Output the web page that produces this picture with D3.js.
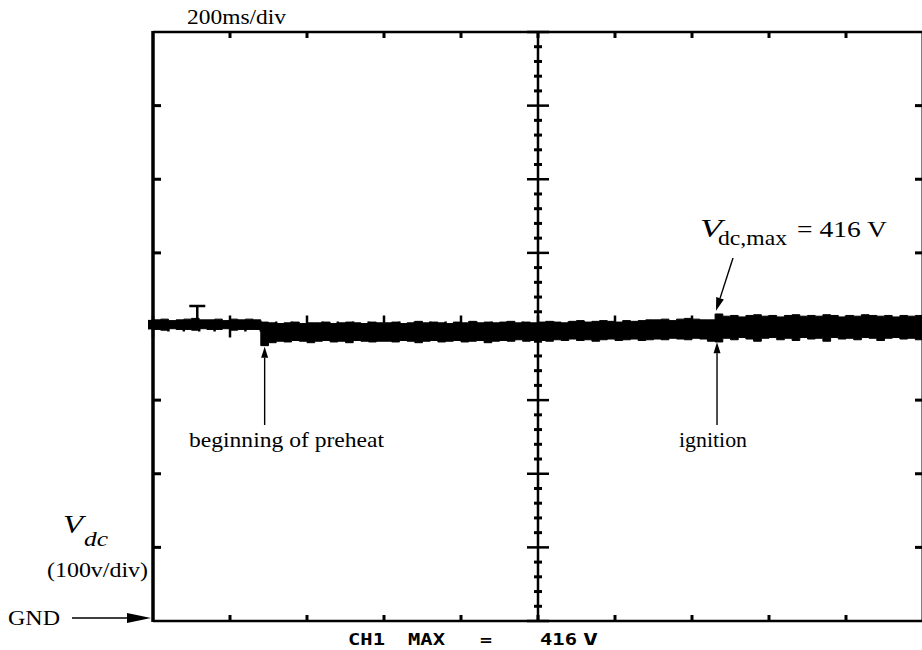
<!DOCTYPE html>
<html>
<head>
<meta charset="utf-8">
<script src="https://cdn.jsdelivr.net/npm/d3@7"></script>
<style>
  html, body { margin: 0; padding: 0; background: #fff; }
  svg { display: block; }
</style>
</head>
<body>
<svg id="scope" width="922" height="650"></svg>
<script>
// DC-bus voltage captured on a scope: 200 ms/div, 100 V/div, 10 x 8 divisions
const sampleStepMs = 20;

// Envelope of the noisy trace (volts), one pair per 20 ms sample, 0 ... 2000 ms
const upperV = [
  409, 410, 408, 409, 410, 411, 409, 409, 410, 408, 410, 409, 410, 409,
  406,
  405, 404, 405, 406, 404, 405, 405, 406, 404, 405, 406, 405, 404, 406, 405,
  405, 406, 404, 405, 407, 405, 406, 405, 404, 406, 405, 407, 405, 406, 405, 406, 407, 405, 406, 405,
  406, 407, 406, 405, 407, 408, 406, 407, 408, 407, 406, 408, 407, 408, 409,
  409, 410, 408, 410, 411, 410, 409, 409,
  417,
  414, 415, 413, 415, 416, 414, 415, 413, 415, 416, 414, 415, 414, 416, 415, 413, 415, 414, 416, 415,
  414, 415, 413, 415, 414, 415, 414
];
const lowerV = [
  396, 395, 397, 396, 396, 395, 397, 396, 396, 397, 395, 396, 396, 396,
  374,
  378, 380, 379, 381, 380, 378, 380, 381, 379, 380, 378, 381, 380, 379, 380,
  380, 379, 381, 380, 378, 380, 381, 379, 380, 381, 379, 380, 381, 378, 380, 381, 380, 382, 380, 381,
  381, 380, 382, 381, 383, 381, 382, 380, 382, 383, 381, 382, 383, 381, 382,
  383, 382, 384, 383, 382, 384, 383, 380,
  379,
  384, 382, 385, 383, 380, 384, 385, 382, 384, 381, 385, 383, 384, 380, 385, 383, 384, 382, 385, 384,
  381, 384, 385, 383, 384, 382, 384
];

// Events marked on the record
const preheatMs = 290;
const ignitionMs = 1465;
const maxVolts = 416;
const triggerMark = { ms: 115, volts: 428 };

// Graticule
const timeDivs = [0, 200, 400, 600, 800, 1000, 1200, 1400, 1600, 1800, 2000];
const voltDivs = [0, 100, 200, 300, 400, 500, 600, 700, 800];

// Labels
const sweepLabel = "200ms/div";
const voltLabel = "(100v/div)";
const gndLabel = "GND";
const preheatLabel = "beginning of preheat";
const ignitionLabel = "ignition";
const readout = ["CH1", "MAX", "=", "416", "V"];

const svg = d3.select("#scope");
const x = d3.scaleLinear().domain([0, 2000]).range([153, 923]);
const y = d3.scaleLinear().domain([0, 800]).range([621, 32]);

const serif = "'Liberation Serif', 'Times New Roman', serif";
const ink = "#000";

const trace = upperV.map((u, i) => ({ t: i * sampleStepMs, hi: u, lo: lowerV[i] }));

// --- graticule: centre cross with fine ticks
const gTicks = svg.append("g").attr("stroke", ink);
const xc = x(1000), yc = y(400);
gTicks.append("line").attr("x1", xc).attr("x2", xc).attr("y1", y(800)).attr("y2", y(0)).attr("stroke-width", 2.5);
gTicks.append("line").attr("x1", x(0)).attr("x2", x(2000)).attr("y1", yc).attr("y2", yc).attr("stroke-width", 2);
d3.range(0, 801, 20).forEach(v => {
  const major = v % 100 === 0;
  gTicks.append("line").attr("x1", xc - (major ? 11 : 4)).attr("x2", xc + (major ? 11 : 4))
    .attr("y1", y(v)).attr("y2", y(v)).attr("stroke-width", major ? 2.5 : 3);
});
d3.range(0, 2001, 40).forEach(t => {
  const major = t % 200 === 0;
  gTicks.append("line").attr("y1", yc - (major ? 11 : 5)).attr("y2", yc + (major ? 11 : 5))
    .attr("x1", x(t)).attr("x2", x(t)).attr("stroke-width", 2.5);
});

// --- frame and edge ticks
const frame = svg.append("g").attr("stroke", ink).attr("fill", "none");
frame.append("line").attr("x1", x(0)).attr("x2", x(0)).attr("y1", y(800) - 1).attr("y2", y(0) + 1).attr("stroke-width", 3.5);
frame.append("line").attr("x1", x(0)).attr("x2", x(2000)).attr("y1", y(800)).attr("y2", y(800)).attr("stroke-width", 2.5);
frame.append("line").attr("x1", x(0)).attr("x2", x(2000)).attr("y1", y(0)).attr("y2", y(0)).attr("stroke-width", 2.5);
frame.append("line").attr("x1", x(2000)).attr("x2", x(2000)).attr("y1", y(800)).attr("y2", y(0)).attr("stroke-width", 3);
voltDivs.slice(1, -1).forEach(v => {
  frame.append("line").attr("x1", x(0)).attr("x2", x(0) + 8).attr("y1", y(v)).attr("y2", y(v)).attr("stroke-width", 3);
  frame.append("line").attr("x1", x(2000) - 8).attr("x2", x(2000)).attr("y1", y(v)).attr("y2", y(v)).attr("stroke-width", 3);
});
timeDivs.slice(1, -1).forEach(t => {
  frame.append("line").attr("x1", x(t)).attr("x2", x(t)).attr("y1", y(800)).attr("y2", y(800) + 6).attr("stroke-width", 3);
  frame.append("line").attr("x1", x(t)).attr("x2", x(t)).attr("y1", y(0)).attr("y2", y(0) - 6).attr("stroke-width", 3);
});

// --- the trace as a filled envelope band
const band = d3.area()
  .x(d => x(d.t))
  .y0(d => y(d.lo))
  .y1(d => y(d.hi))
  .curve(d3.curveStepAfter);
svg.append("path").datum(trace).attr("d", band).attr("fill", ink)
  .attr("stroke", ink).attr("stroke-width", 1);
// lead-in just left of the frame
svg.append("rect").attr("x", x(0) - 5).attr("width", 6)
  .attr("y", y(trace[0].hi)).attr("height", y(trace[0].lo) - y(trace[0].hi)).attr("fill", ink);

// trigger marker
svg.append("path")
  .attr("d", `M${x(triggerMark.ms)},${y(trace[6].hi)}V${y(triggerMark.volts)}` +
             `M${x(triggerMark.ms) - 8},${y(triggerMark.volts)}H${x(triggerMark.ms) + 8}`)
  .attr("stroke", ink).attr("stroke-width", 2.5).attr("fill", "none");

// --- annotations
function arrow(x1, y1, x2, y2, len, half) {
  const a = Math.atan2(y2 - y1, x2 - x1);
  const bx = x2 - len * Math.cos(a), by = y2 - len * Math.sin(a);
  const nx = -Math.sin(a) * half, ny = Math.cos(a) * half;
  svg.append("line").attr("x1", x1).attr("y1", y1).attr("x2", bx).attr("y2", by)
    .attr("stroke", ink).attr("stroke-width", 1.4);
  svg.append("path").attr("d", `M${x2},${y2}L${bx + nx},${by + ny}L${bx - nx},${by - ny}Z`).attr("fill", ink);
}

arrow(x(preheatMs), 425, x(preheatMs), y(374) + 1, 11, 3.5);
arrow(x(ignitionMs), 425, x(ignitionMs), y(380) + 1, 11, 3.5);
arrow(733, 258, x(ignitionMs) - 1, y(maxVolts) - 4, 13, 4);

function label(txt, x0, yb, size, len, opts = {}) {
  const t = svg.append("text").attr("x", x0).attr("y", yb)
    .attr("font-family", opts.family || serif).attr("font-size", size)
    .attr("font-style", opts.italic ? "italic" : "normal")
    .attr("font-weight", opts.bold ? "bold" : "normal")
    .attr("fill", ink).text(txt);
  if (len) t.attr("textLength", len).attr("lengthAdjust", "spacingAndGlyphs");
  return t;
}

label(sweepLabel, 187, 24, 22, 99);
label(preheatLabel, 189, 447, 22, 195);
label(ignitionLabel, 679, 447, 22, 68);

// V_dc,max = 416 V
label("V", 700, 237, 25, 22, { italic: true });
label("dc,max", 718, 245, 22, 69);
label(`= ${maxVolts} V`, 797, 237, 24, 90);

// channel label at the left
label("V", 63, 533, 25, 20, { italic: true });
label("dc", 84, 546, 21, 24, { italic: true });
label(voltLabel, 47, 577, 21, 101);
label(gndLabel, 8, 625, 21, 52);
svg.append("line").attr("x1", 72).attr("x2", 130).attr("y1", 618).attr("y2", 618)
  .attr("stroke", ink).attr("stroke-width", 1.4);
svg.append("path").attr("d", "M151,618L127,613L127,623Z").attr("fill", ink);

// scope readout line
const mono = "'DejaVu Sans Mono', monospace";
const readPos = [[348, 37], [408, 37], [480, 12], [540, 37], [583, 15]];
readout.forEach((s, i) => label(s, readPos[i][0], 645, 15, readPos[i][1], { family: mono, bold: true }));
</script>
</body>
</html>
